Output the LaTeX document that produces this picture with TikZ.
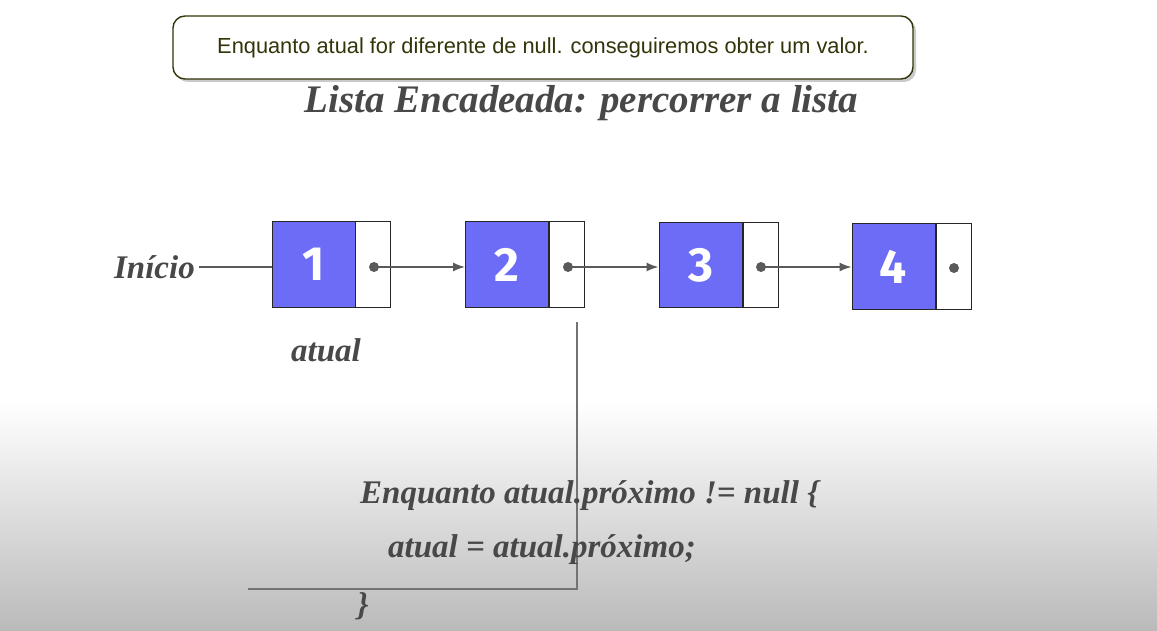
\documentclass[tikz,border=0pt]{standalone}
\usepackage{fontspec}
\setmainfont{Liberation Serif}
\newfontfamily\callfont{Liberation Sans}
\newfontfamily\numfont{Fira Sans}
\usetikzlibrary{shadows,arrows.meta}
\definecolor{boxblue}{RGB}{108,108,246}
\definecolor{txtgray}{RGB}{72,72,72}
\definecolor{olive}{RGB}{52,52,10}
\definecolor{linegray}{RGB}{90,90,90}
\definecolor{bggray}{RGB}{186,186,186}
\tikzset{
  datapart/.style={draw=black!85, line width=1pt, fill=boxblue, minimum width=83pt, minimum height=85pt, inner sep=0pt, text=white, font=\numfont\bfseries\fontsize{48}{48}\selectfont},
  ptrpart/.style={draw=black!85, line width=1pt, fill=white, minimum width=35pt, minimum height=85pt, inner sep=0pt},
  ptrdot/.style={circle, fill=linegray, inner sep=0pt, minimum size=10pt},
  link/.style={draw=linegray, line width=1.4pt, -{Latex[length=12pt,width=9pt]}},
  slidetext/.style={text=txtgray, font=\bfseries\itshape\fontsize{33}{33}\selectfont, inner sep=0pt},
  callout/.style={draw=olive, line width=1.4pt, rounded corners=12pt, fill=white, minimum width=740pt, minimum height=63pt, drop shadow={shadow xshift=3pt, shadow yshift=-3pt, opacity=0.35, fill=black!60}},
}
\begin{document}
\begin{tikzpicture}[x=1pt,y=-1pt]
\useasboundingbox (0,0) rectangle (1157,631);
\fill[white] (0,0) rectangle (1157,631);
\shade[top color=white, bottom color=bggray] (0,402) rectangle (1157,631);

% callout
\node[callout, text=olive, font=\callfont\fontsize{21.8}{21.8}\selectfont] (call) at (543,47.5) {Enquanto atual for diferente de null. conseguiremos obter um valor.};

% title
\node[text=txtgray, font=\bfseries\itshape\fontsize{39}{39}\selectfont, inner sep=0pt] (title) at (581.5,103) {Lista Encadeada: percorrer a lista};

% list nodes
\node[datapart] (n1) at (313.5,264.5) {1};
\node[ptrpart]  (p1) at (372.5,264.5) {};
\node[datapart] (n2) at (507,264.5) {2};
\node[ptrpart]  (p2) at (566.5,264.5) {};
\node[datapart] (n3) at (700.5,265) {3};
\node[ptrpart]  (p3) at (760.5,265) {};
\node[datapart] (n4) at (893.5,266.5) {4};
\node[ptrpart]  (p4) at (953.5,266.5) {};

\node[ptrdot] (d1) at (374,267) {};
\node[ptrdot] (d2) at (568,267) {};
\node[ptrdot] (d3) at (761,267) {};
\node[ptrdot] (d4) at (954,268) {};

\draw[link] (d1.center) -- (n2.west |- d1);
\draw[link] (d2.center) -- (n3.west |- d2);
\draw[link] (d3.center) -- (n4.west |- d3);

% labels
\node[slidetext, anchor=east] (inicio) at (195,267) {Início};
\draw[draw=linegray, line width=1.4pt] (inicio.east) ++(4,0) coordinate (ie) -- (n1.west |- ie);
\node[slidetext] (atual) at (326,350) {atual};

% L-shaped line
\coordinate (lt) at (577,322);
\coordinate (lc) at (577,589);
\coordinate (ll) at (248,589);
\draw[draw=black!55, line width=1.6pt] (lt) -- (lc) -- (ll);

% code
\node[slidetext, anchor=west] (code1) at (360,496) {Enquanto atual.próximo != null \{};
\node[slidetext, anchor=west] (code2) at (388,550) {atual = atual.próximo;};
\node[slidetext, anchor=west] (code3) at (357,606) {\}};
\end{tikzpicture}
\end{document}
